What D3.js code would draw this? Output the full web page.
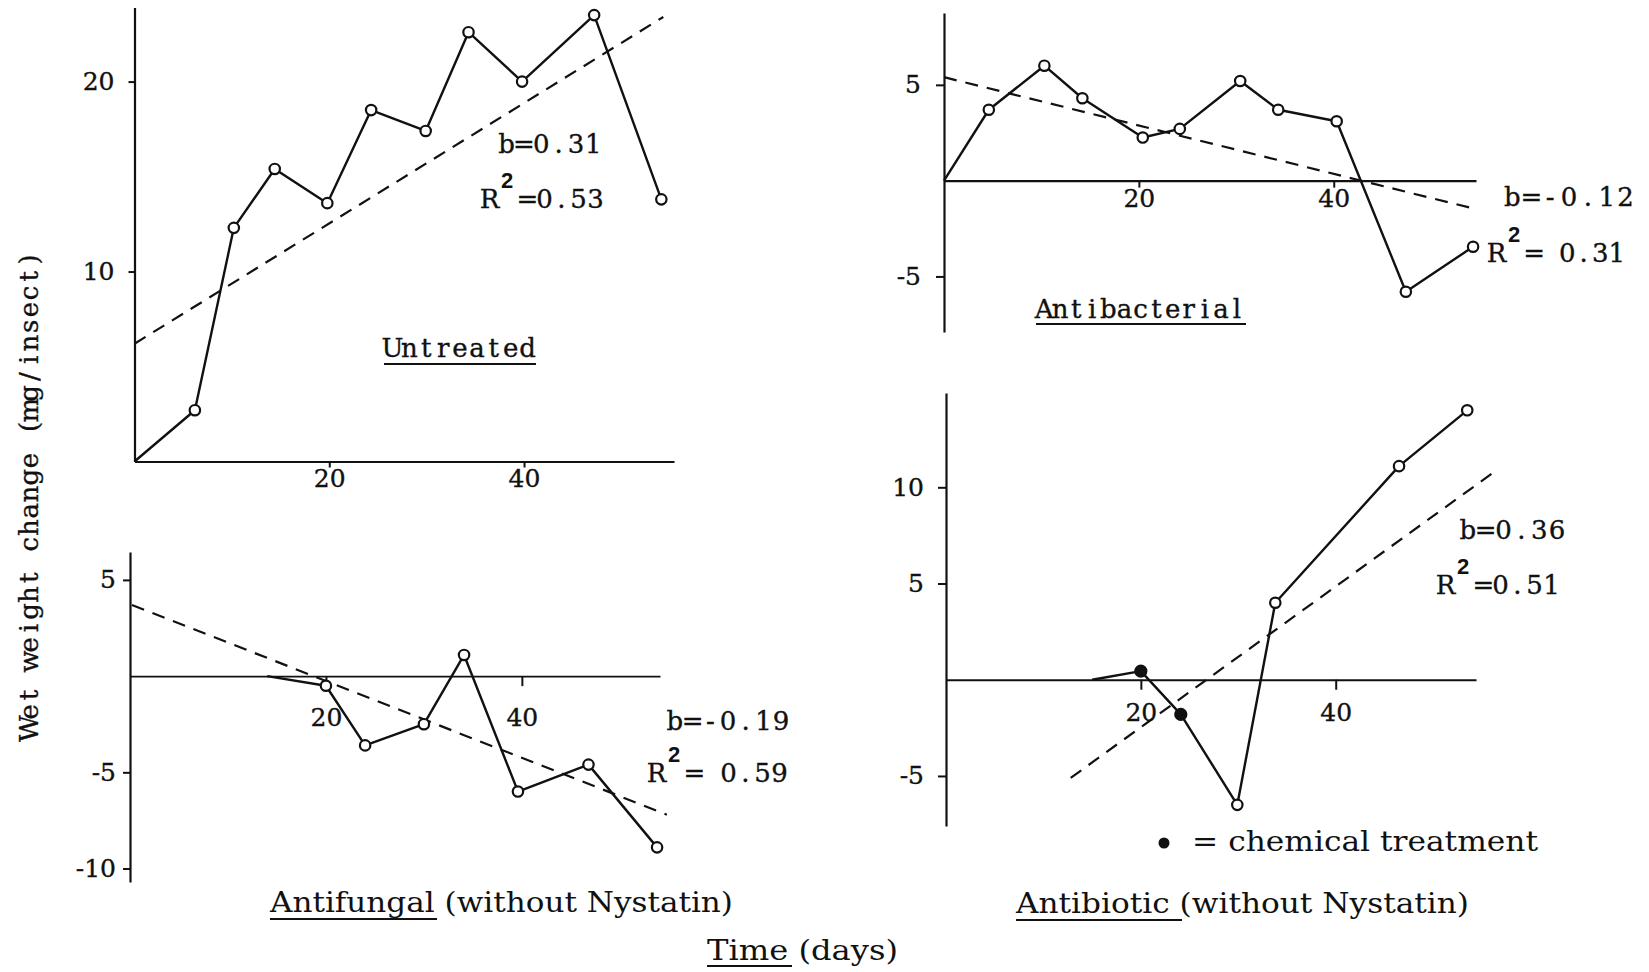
<!DOCTYPE html>
<html>
<head>
<meta charset="utf-8">
<script src="https://cdn.jsdelivr.net/npm/d3@7"></script>
<style>
    body { margin: 0; background: #fff; }
    svg { display: block; }
    .serif { font-family: "DejaVu Serif", "Liberation Serif", serif; }
    .type { font-family: "DejaVu Serif", "Liberation Serif", serif; stroke: #111; stroke-width: 0.35px; }
    .sup { font-family: "Liberation Sans", "DejaVu Sans", sans-serif; font-weight: bold; }
</style>
</head>
<body>
<div id="chart"></div>
<script>
// values: time (days) and wet weight change (mg/insect)
const untreatedDays   = [0, 6.2, 10.2, 14.4, 19.8, 24.3, 29.9, 34.3, 39.8, 47.2, 54.1];
const untreatedWeight = [0, 2.7, 12.3, 15.4, 13.6, 18.5, 17.4, 22.6, 20.0, 23.5, 13.8];
const untreatedMarks  = ["none", "open", "open", "open", "open", "open", "open", "open", "open", "open", "open"];
const untreatedTrend  = [[0, 6.2], [54.3, 23.4]];

const antibacterialDays   = [0, 4.6, 10.3, 14.2, 20.4, 24.2, 30.4, 34.3, 40.3, 47.4, 54.3];
const antibacterialWeight = [0, 3.7, 6.0, 4.3, 2.25, 2.7, 5.2, 3.7, 3.1, -5.8, -3.45];
const antibacterialMarks  = ["none", "open", "open", "open", "open", "open", "open", "open", "open", "open", "open"];
const antibacterialTrend  = [[0, 5.4], [54.7, -1.5]];

const antifungalDays   = [14, 20, 24, 30, 34.1, 39.6, 46.8, 53.8];
const antifungalWeight = [0, -0.5, -3.6, -2.5, 1.1, -6.0, -4.6, -8.9];
const antifungalMarks  = ["none", "open", "open", "open", "open", "open", "open", "open"];
const antifungalTrend  = [[0.2, 3.7], [54.8, -7.2]];

const antibioticDays   = [15, 20, 24.1, 29.9, 33.8, 46.5, 53.5];
const antibioticWeight = [0, 0.45, -1.8, -6.5, 4.0, 11.1, 14.0];
const antibioticMarks  = ["none", "filled", "filled", "open", "open", "open", "open"];
const antibioticTrend  = [[12.8, -5.1], [56.0, 10.7]];

const xTickValues = [20, 40];
const untreatedYTicks = [10, 20];
const antibacterialYTicks = [-5, 5];
const antifungalYTicks = [-10, -5, 5];
const antibioticYTicks = [-5, 5, 10];

const width = 1649;
const height = 972;

let svg = d3.select("#chart").append("svg")
    .attr("width", width)
    .attr("height", height);

svg.append("rect").attr("width", width).attr("height", height).attr("fill", "#fff");

/*
 *  One small plot: axes, trend line, data line and markers.
 */
function drawPanel(p) {
    let x = d3.scaleLinear().domain(p.xDomain).range(p.xRange);
    let y = d3.scaleLinear().domain(p.yDomain).range(p.yRange);
    let g = svg.append("g");

    let yAxis = g.append("g")
        .attr("transform", "translate(" + p.xRange[0] + ",0)")
        .call(d3.axisLeft(y).tickValues(p.yTicks).tickSize(p.yTickSize)
            .tickPadding(p.yTickPad).tickSizeOuter(0).tickFormat(d => String(d)));

    let xAxis = g.append("g")
        .attr("transform", "translate(0," + y(0) + ")")
        .call(d3.axisBottom(x).tickValues(xTickValues).tickSize(p.xTickSize)
            .tickPadding(p.xTickPad).tickSizeOuter(0).tickFormat(d => String(d)));

    [yAxis, xAxis].forEach(a => {
        a.select(".domain").attr("stroke", "#111").attr("stroke-width", 2.2);
        a.selectAll(".tick line").attr("stroke", "#111").attr("stroke-width", 2);
        a.selectAll(".tick text")
            .attr("class", "type")
            .attr("fill", "#111")
            .style("font-size", "25px");
    });
    xAxis.select(".domain").attr("stroke-width", p.zeroWidth);

    let trend = d3.line().x(d => x(d[0])).y(d => y(d[1]));
    g.append("path")
        .attr("d", trend(p.trend))
        .attr("fill", "none")
        .attr("stroke", "#111")
        .attr("stroke-width", 2.2)
        .attr("stroke-dasharray", "13,9");

    let pts = p.days.map((d, i) => ({ day: d, value: p.weight[i], mark: p.marks[i] }));

    let line = d3.line().x(d => x(d.day)).y(d => y(d.value));
    g.append("path")
        .attr("d", line(pts))
        .attr("fill", "none")
        .attr("stroke", "#111")
        .attr("stroke-width", 2.4)
        .attr("stroke-linejoin", "round");

    g.selectAll("circle.pt")
        .data(pts.filter(d => d.mark !== "none"))
        .enter()
        .append("circle")
        .attr("class", "pt")
        .attr("cx", d => x(d.day))
        .attr("cy", d => y(d.value))
        .attr("r", d => d.mark === "filled" ? 5.5 : 5.2)
        .attr("fill", d => d.mark === "filled" ? "#111" : "#fff")
        .attr("stroke", "#111")
        .attr("stroke-width", 2.2);
}

/*
 *  Typewriter text: every character sits centred in its own cell.
 */
function addMono(str, x, y, size, len) {
    let pitch = len / str.length;
    let t = svg.append("text")
        .attr("class", "type")
        .attr("fill", "#111")
        .attr("text-anchor", "middle")
        .style("font-size", size + "px");
    t.selectAll("tspan")
        .data(str.split(""))
        .enter()
        .append("tspan")
        .attr("x", (d, i) => x + pitch * (i + 0.5))
        .attr("y", y)
        .text(d => d);
    return t;
}

function addText(str, x, y, cls, size, len) {
    let t = svg.append("text")
        .attr("class", cls)
        .attr("x", x)
        .attr("y", y)
        .attr("fill", "#111")
        .style("font-size", size + "px")
        .text(str);
    if(typeof len !== "undefined") {
        t.attr("textLength", len).attr("lengthAdjust", "spacingAndGlyphs");
    }
    return t;
}

function underline(x1, x2, y) {
    svg.append("line")
        .attr("x1", x1).attr("x2", x2)
        .attr("y1", y).attr("y2", y)
        .attr("stroke", "#111")
        .attr("stroke-width", 2.2);
}

// b and R^2 annotation: "b=..", then "R", superscript 2, "=.."
function addFit(bText, bx, by, blen, rx, ry, rText, rlen) {
    addMono(bText, bx, by, 26, blen);
    addMono("R", rx, ry, 26, 19);
    addText("2", rx + 21, ry - 20, "sup", 22);
    addMono(rText, rx + 39, ry, 26, rlen);
}

drawPanel({
    xDomain: [0, 55.4], xRange: [134.5, 674],
    yDomain: [0, 23.9], yRange: [461.5, 7.5],
    yTicks: untreatedYTicks, yTickSize: 6, yTickPad: 14,
    xTickSize: 6, xTickPad: 2, zeroWidth: 2.2,
    days: untreatedDays, weight: untreatedWeight, marks: untreatedMarks, trend: untreatedTrend
});

drawPanel({
    xDomain: [0, 54.6], xRange: [944, 1476],
    yDomain: [-7.9, 8.75], yRange: [332, 13],
    yTicks: antibacterialYTicks, yTickSize: 8, yTickPad: 15,
    xTickSize: 7, xTickPad: 2, zeroWidth: 2.2,
    days: antibacterialDays, weight: antibacterialWeight, marks: antibacterialMarks, trend: antibacterialTrend
});

drawPanel({
    xDomain: [0, 54.1], xRange: [130, 660],
    yDomain: [-10.7, 6.45], yRange: [882, 552],
    yTicks: antifungalYTicks, yTickSize: 7, yTickPad: 7,
    xTickSize: 10, xTickPad: 22, zeroWidth: 1.6,
    days: antifungalDays, weight: antifungalWeight, marks: antifungalMarks, trend: antifungalTrend
});

drawPanel({
    xDomain: [0, 54.4], xRange: [946, 1476],
    yDomain: [-7.6, 14.9], yRange: [826, 393],
    yTicks: antibioticYTicks, yTickSize: 8, yTickPad: 14,
    xTickSize: 10, xTickPad: 14, zeroWidth: 2,
    days: antibioticDays, weight: antibioticWeight, marks: antibioticMarks, trend: antibioticTrend
});

// annotations
addFit("b=0.31", 498, 153, 104, 480, 208, "=0.53", 85);
addFit("b=-0.12", 1503, 206, 132, 1487, 262, "= 0.31", 99);
addFit("b=-0.19", 666, 730, 124, 647, 782, "= 0.59", 102);
addFit("b=0.36", 1459, 539, 107, 1436, 594, "=0.51", 85);

addMono("Untreated", 384, 357, 26, 152);
underline(384, 536, 364);

addMono("Antibacterial", 1036, 318, 26, 209);
underline(1036, 1246, 324);

addText("Antifungal (without Nystatin)", 270, 912, "serif", 27, 463);
underline(270, 437, 919);

addText("Antibiotic (without Nystatin)", 1016, 913, "serif", 27, 453);
underline(1016, 1182, 920);

svg.append("circle").attr("cx", 1164).attr("cy", 843).attr("r", 5.5).attr("fill", "#111");
addText("= chemical treatment", 1192, 851, "serif", 27, 346);

addText("Time (days)", 707, 960, "serif", 27, 191);
underline(707, 792, 966);

addMono("Wet weight change (mg/insect)", -243, 0, 26, 486)
    .attr("transform", "translate(38,494) rotate(-90)");
</script>
</body>
</html>
